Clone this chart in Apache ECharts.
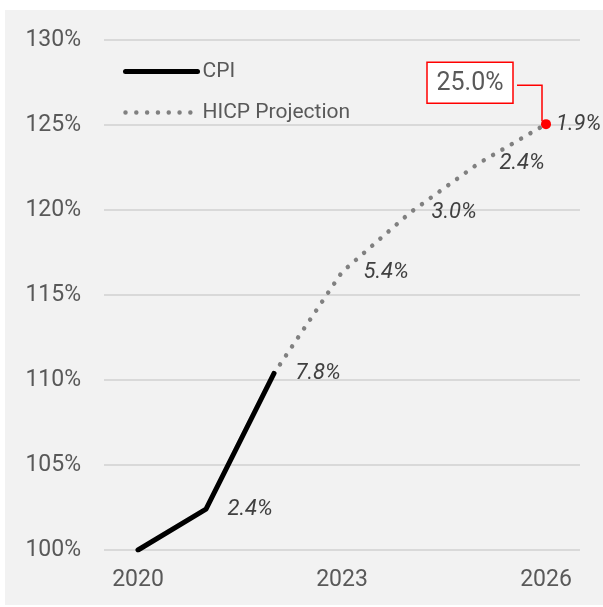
<!DOCTYPE html>
<html><head><meta charset="utf-8">
<script src="https://cdn.jsdelivr.net/npm/echarts@6/dist/echarts.min.js"></script>
<style>
html,body{margin:0;padding:0;background:#fff;}
#c{position:absolute;left:5px;top:10px;width:598px;height:595px;}
</style></head>
<body><div id="c"></div>
<script>
const years = ['2020','2021','2022','2023','2024','2025','2026'];
const cpiValues = [100, 102.4, 110.39, null, null, null, null];
const hicpValues = [null, null, 110.39, 116.35, 119.84, 122.72, 125.05];
const cpiLabels = ['', '2.4%', '7.8%', '', '', '', ''];
const hicpLabels = ['', '', '', '5.4%', '3.0%', '2.4%', '1.9%'];
const yTicks = [100, 105, 110, 115, 120, 125, 130];
const totalLabel = '25.0%';

const FONT = 'Roboto, "Noto Sans", sans-serif';
const chart = echarts.init(document.getElementById('c'));
const TRANSPARENT = 'rgba(0,0,0,0)';

const hicpData = hicpValues.map((v, i) => {
  if (i === hicpValues.length - 1) {
    return {value: v, symbol: 'circle', symbolSize: 10, itemStyle: {color: '#ff0000'},
            label: {distance: 5}};
  }
  return v;
});

chart.setOption({
  backgroundColor: '#f2f2f2',
  animation: false,
  grid: {left: 99, right: 23, top: 30, bottom: 55},
  legend: {
    orient: 'vertical', left: 118, top: 51, padding: 0, itemWidth: 72, itemHeight: 14, itemGap: 20,
    textStyle: {fontFamily: FONT, fontSize: 21, color: '#595959'},
    data: [
      {name: 'CPI', itemStyle: {color: TRANSPARENT, borderWidth: 0},
       lineStyle: {color: '#000', width: 5, cap: 'round'}},
      {name: 'HICP Projection', itemStyle: {color: TRANSPARENT, borderWidth: 0},
       lineStyle: {color: '#808080', width: 4.5, type: [0.01, 10.8], cap: 'round'}}
    ]
  },
  xAxis: {
    type: 'category', data: years, boundaryGap: true,
    axisLine: {show: false}, axisTick: {show: false},
    axisLabel: {interval: 2, fontFamily: FONT, fontSize: 23, color: '#595959', margin: 19}
  },
  yAxis: {
    type: 'value', min: yTicks[0], max: yTicks[yTicks.length - 1], interval: 5,
    axisLine: {show: false}, axisTick: {show: false},
    splitLine: {lineStyle: {color: '#d9d9d9', width: 2}},
    axisLabel: {formatter: v => v + '%', fontFamily: FONT, fontSize: 23, color: '#595959', margin: 23}
  },
  series: [
    {
      name: 'CPI', type: 'line', data: cpiValues, symbol: 'circle', symbolSize: 1,
      itemStyle: {color: TRANSPARENT},
      lineStyle: {color: '#000', width: 5, cap: 'round', join: 'round'},
      label: {show: true, position: 'right', distance: 21,
        formatter: p => cpiLabels[p.dataIndex], fontFamily: FONT, fontSize: 22,
        fontStyle: 'italic', color: '#404040'},
      z: 3
    },
    {
      name: 'HICP Projection', type: 'line', data: hicpData, symbol: 'circle', symbolSize: 1,
      itemStyle: {color: TRANSPARENT},
      lineStyle: {color: '#808080', width: 4.5, type: [0.01, 10.8], cap: 'round'},
      label: {show: true, position: 'right', distance: 21,
        formatter: p => hicpLabels[p.dataIndex], fontFamily: FONT, fontSize: 22,
        fontStyle: 'italic', color: '#404040'},
      z: 2
    }
  ]
});

function drawAnnotation() {
  const last = years.length - 1;
  const pt = chart.convertToPixel({gridIndex: 0}, [years[last], hicpValues[last]]);
  const boxW = 86, boxH = 41;
  const bx = pt[0] - 119, by = pt[1] - 62;
  chart.setOption({
    graphic: [
      {type: 'rect', shape: {x: bx, y: by, width: boxW, height: boxH},
       style: {fill: '#ffffff', stroke: '#ff0000', lineWidth: 1.5}, z: 10},
      {type: 'text', x: bx + boxW / 2, y: by + boxH / 2 + 1,
       style: {text: totalLabel, fontFamily: FONT, fontSize: 25, fill: '#595959',
               align: 'center', verticalAlign: 'middle'}, z: 11},
      {type: 'polyline', shape: {points: [[bx + boxW + 4, by + 23], [pt[0] - 4, by + 23], [pt[0] - 4, pt[1] - 3]]},
       style: {stroke: '#ff0000', lineWidth: 1.5, fill: null}, z: 10}
    ]
  });
}
drawAnnotation();
</script></body></html>
